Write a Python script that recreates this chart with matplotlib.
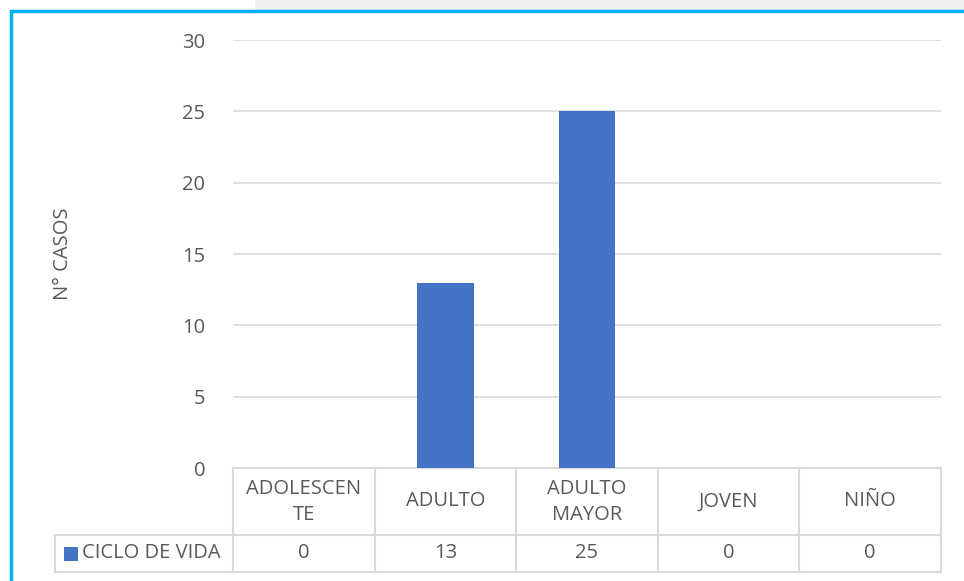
import matplotlib.pyplot as plt
from matplotlib.patches import Rectangle

plt.rcParams['font.family'] = ['Open Sans', 'DejaVu Sans']

# data
categorias = ['ADOLESCEN\nTE', 'ADULTO', 'ADULTO\nMAYOR', 'JOVEN', 'NIÑO']
casos = [0, 13, 25, 0, 0]
serie = 'CICLO DE VIDA'
yticks = [0, 5, 10, 15, 20, 25, 30]

W, H = 964, 581
fig = plt.figure(figsize=(W / 100, H / 100), dpi=100)
fig.patch.set_facecolor('white')

# light strip above the frame and blue frame
fig.add_artist(Rectangle((255 / W, 1 - 10 / H), 1, 10 / H, transform=fig.transFigure,
                         facecolor='#f0f0f0', edgecolor='none'))
fig.add_artist(Rectangle((11 / W, -0.1), 1.2, 1 - 11 / H + 0.1, transform=fig.transFigure,
                         facecolor='none', edgecolor='#00b0f0', linewidth=2.5))

x0, x1, y0, y1 = 233, 941, 468, 40
ax = fig.add_axes([x0 / W, 1 - y0 / H, (x1 - x0) / W, (y0 - y1) / H])

gris = '#595959'
linea = '#d9d9d9'
fs = 14.5
x = list(range(len(categorias)))
ax.bar(x, casos, width=0.4, color='#4472c4', zorder=3)
ax.set_xlim(-0.5, len(categorias) - 0.5)
ax.set_ylim(0, 30)
ax.set_yticks(yticks)
ax.set_yticklabels([str(t) for t in yticks], fontsize=fs, color=gris)
ax.tick_params(axis='y', length=0, pad=20)
ax.set_xticks([])
ax.grid(axis='y', color=linea, linewidth=1.2, zorder=0)
for s in ax.spines.values():
    s.set_visible(False)
ax.set_ylabel('N° CASOS', fontsize=fs, color=gris, labelpad=0)
ax.yaxis.set_label_coords(-(x0 - 73) / (x1 - x0), 0.5)

# data table below the axis (x in data units, y in axes units)
tr = ax.get_xaxis_transform()
h = y0 - y1
r1 = -(535 - y0) / h
r2 = -(572 - y0) / h
ux = (x1 - x0) / len(categorias)
xl = -0.5 - (x0 - 55) / ux
n = len(categorias)
kw = dict(color=linea, linewidth=1.5, clip_on=False, zorder=2, transform=tr)
ax.plot([-0.5, n - 0.5], [0, 0], **kw)
ax.plot([xl, n - 0.5], [r1, r1], **kw)
ax.plot([xl, n - 0.5], [r2, r2], **kw)
ax.plot([xl, xl], [r1, r2], **kw)
for b in range(n + 1):
    ax.plot([b - 0.5, b - 0.5], [0, r2], **kw)
for i, (c, v) in enumerate(zip(categorias, casos)):
    ax.text(i, r1 / 2, c, ha='center', va='center', fontsize=fs, color=gris,
            linespacing=1.4, transform=tr)
    ax.text(i, (r1 + r2) / 2, str(v), ha='center', va='center', fontsize=fs,
            color=gris, transform=tr)
ax.add_patch(Rectangle((xl + 9 / ux, (r1 + r2) / 2 - 7 / h), 14 / ux, 14 / h,
                       facecolor='#4472c4', edgecolor='none', clip_on=False,
                       transform=tr))
ax.text(xl + 27 / ux, (r1 + r2) / 2, serie, ha='left', va='center', fontsize=fs,
        color=gris, transform=tr)

fig.savefig('out.png', dpi=100)
